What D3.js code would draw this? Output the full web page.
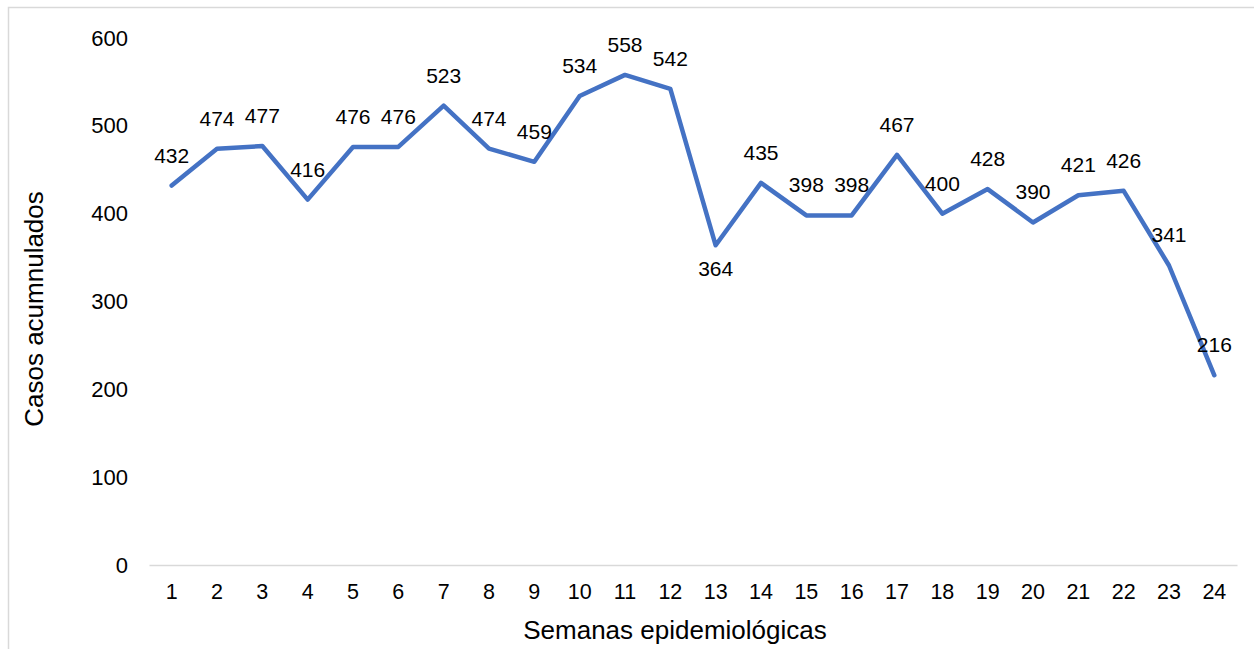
<!DOCTYPE html>
<html>
<head>
<meta charset="utf-8">
<script src="https://cdn.jsdelivr.net/npm/d3@7"></script>
<style>
  body { margin: 0; background: #fff; }
  text { font-family: "Liberation Sans", Arial, sans-serif; fill: #000; }
</style>
</head>
<body>
<div id="chart"></div>
<script>
// weeks and accumulated cases
var semanas = [1,2,3,4,5,6,7,8,9,10,11,12,13,14,15,16,17,18,19,20,21,22,23,24];
var casos = [432,474,477,416,476,476,523,474,459,534,558,542,364,435,398,398,467,400,428,390,421,426,341,216];
var yTicks = [0,100,200,300,400,500,600];
// labels that sit under the line instead of over it
var labelsBelow = [13];

var W = 1254, H = 649;
var margin = {top: 38, right: 17, bottom: 84, left: 149},
    width = W - margin.left - margin.right,
    height = H - margin.top - margin.bottom;

var svg = d3.select("#chart").append("svg")
  .attr("width", W)
  .attr("height", H);

// outer frame
svg.append("rect")
  .attr("x", 8.5).attr("y", 7.5)
  .attr("width", W).attr("height", H)
  .attr("fill", "none")
  .attr("stroke", "#d9d9d9")
  .attr("stroke-width", 1.5);

var g = svg.append("g")
  .attr("transform", "translate(" + margin.left + "," + margin.top + ")");

var x = d3.scaleBand()
  .domain(semanas)
  .range([0, width]);

var y = d3.scaleLinear()
  .domain([0, 600])
  .range([height, 0]);

// x axis
var xAxis = g.append("g")
  .attr("transform", "translate(0," + height + ")")
  .call(d3.axisBottom(x).tickSize(0).tickPadding(19));
xAxis.select(".domain").attr("stroke", "#d9d9d9").attr("stroke-width", 1.5);
xAxis.selectAll("text").style("font-size", "21.5px").attr("font-family", null);

// y axis
var yAxis = g.append("g")
  .call(d3.axisLeft(y).tickValues(yTicks).tickSize(0).tickPadding(21));
yAxis.select(".domain").remove();
yAxis.selectAll("text").style("font-size", "22px").attr("font-family", null);

// line
var line = d3.line()
  .x(function(d, i) { return x(semanas[i]) + x.bandwidth() / 2; })
  .y(function(d) { return y(d); });

g.append("path")
  .datum(casos)
  .attr("fill", "none")
  .attr("stroke", "#4472c4")
  .attr("stroke-width", 4.5)
  .attr("stroke-linejoin", "round")
  .attr("stroke-linecap", "round")
  .attr("d", line);

// data labels
g.selectAll(".lbl")
  .data(casos)
  .enter()
  .append("text")
  .attr("class", "lbl")
  .attr("text-anchor", "middle")
  .style("font-size", "21px")
  .attr("x", function(d, i) { return x(semanas[i]) + x.bandwidth() / 2; })
  .attr("y", function(d, i) {
    return labelsBelow.indexOf(semanas[i]) >= 0 ? y(d) + 31 : y(d) - 23;
  })
  .text(function(d) { return d; });

// axis titles
svg.append("text")
  .attr("text-anchor", "middle")
  .attr("x", 675)
  .attr("y", 639)
  .style("font-size", "26px")
  .text("Semanas epidemiológicas");

svg.append("text")
  .attr("text-anchor", "middle")
  .attr("transform", "translate(43,309) rotate(-90)")
  .style("font-size", "26px")
  .text("Casos acumnulados");
</script>
</body>
</html>
